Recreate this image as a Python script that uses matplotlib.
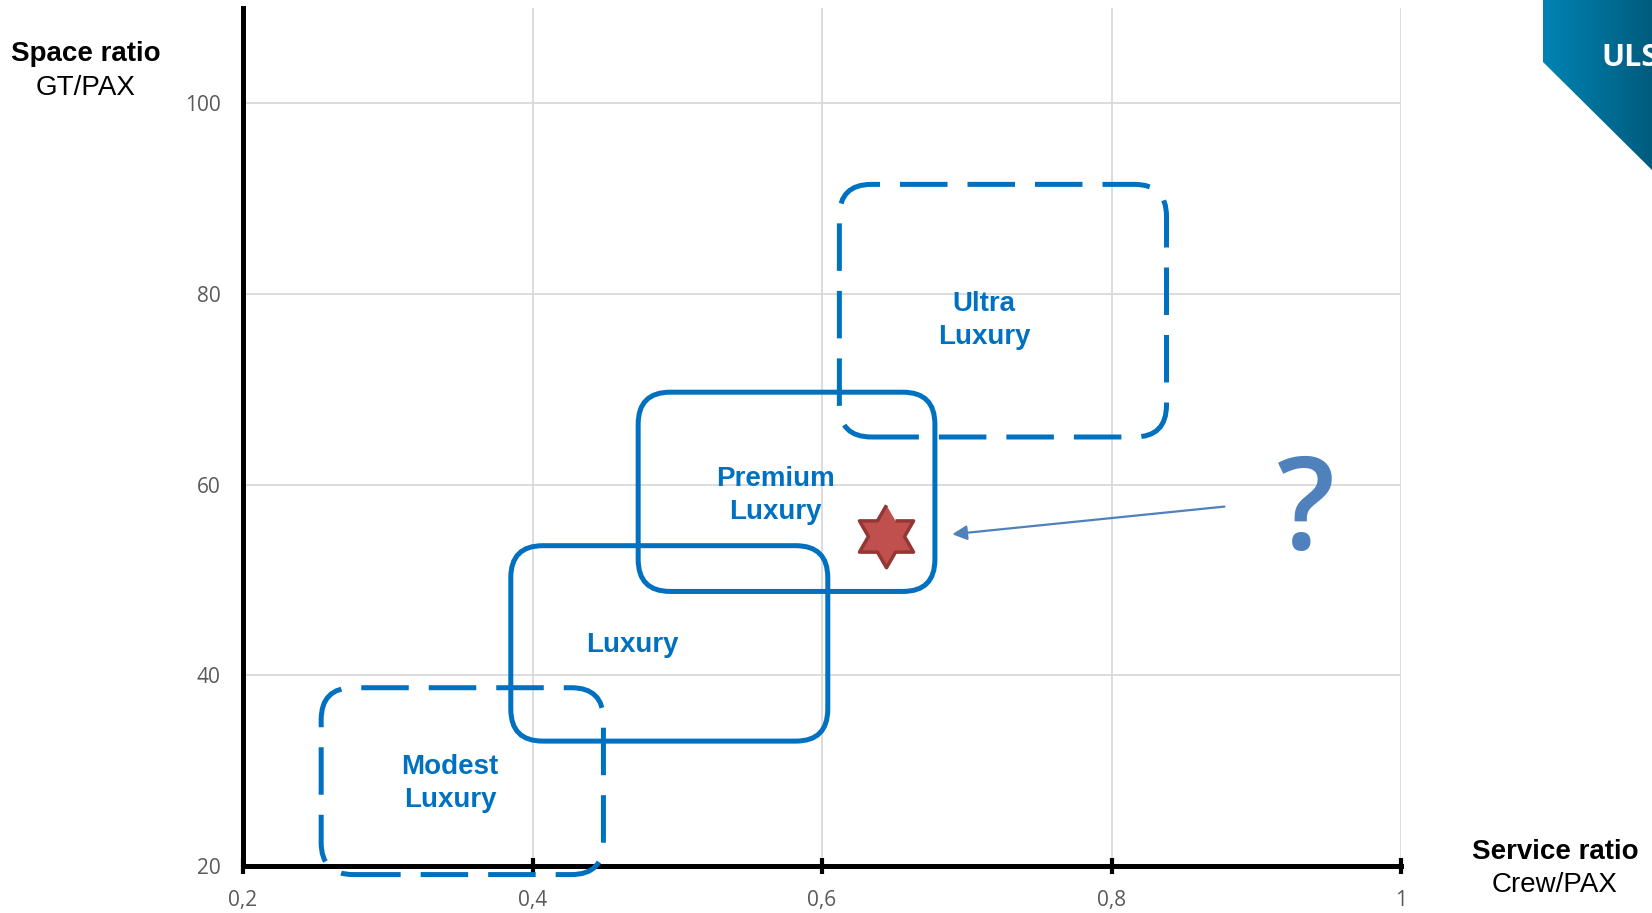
import numpy as np
import matplotlib
matplotlib.use('Agg')
import matplotlib.pyplot as plt
from matplotlib.patches import FancyBboxPatch, Polygon
from matplotlib.colors import LinearSegmentedColormap

# Dados
segmentos = ['Ultra\nLuxury', 'Premium\nLuxury', 'Luxury', 'Modest\nLuxury']
x0 = [0.612, 0.473, 0.385, 0.254]
x1 = [0.838, 0.678, 0.604, 0.449]
y0 = [65.0, 48.8, 33.1, 19.1]
y1 = [91.5, 69.7, 53.6, 38.7]
tracejado = [True, False, False, True]
texto_x = [0.712, 0.568, 0.469, 0.343]
texto_y = [77.2, 58.9, 43.2, 28.7]

navio = (0.644, 54.6)
seta_de = (0.878, 57.7)
seta_para = (0.690, 54.8)

xticks = [0.2, 0.4, 0.6, 0.8, 1.0]
xtick_labels = ['0,2', '0,4', '0,6', '0,8', '1']
yticks = [20, 40, 60, 80, 100]

azul = '#0070C0'
azul_claro = '#4F81BD'
cinza = '#595959'

W, H = 1652, 913
fig = plt.figure(figsize=(W / 100, H / 100), dpi=100)
ax = fig.add_axes([243 / W, 1 - 866 / H, (1401 - 243) / W, (866 - 8) / H])
ax.set_xlim(0.2, 1.0)
ax.set_ylim(20, 110)

# grade e eixos
ax.set_xticks(xticks)
ax.set_xticklabels(xtick_labels)
ax.set_yticks(yticks)
ax.grid(True, color='#D9D9D9', lw=1.3)
ax.set_axisbelow(True)
for s in ['top', 'right']:
    ax.spines[s].set_visible(False)
for s in ['left', 'bottom']:
    ax.spines[s].set_linewidth(3.6)
    ax.spines[s].set_zorder(3)
ax.tick_params(axis='x', direction='inout', length=12, width=3, pad=11,
               labelsize=15, labelcolor=cinza)
ax.tick_params(axis='y', length=0, pad=16, labelsize=15, labelcolor=cinza)
for lab in ax.get_xticklabels() + ax.get_yticklabels():
    lab.set_family('Open Sans')

# caixas arredondadas (raio igual em x e y)
px_x = (1401 - 243) / 0.8
px_y = (866 - 8) / 90.0
aspecto = px_x / px_y
raio = 32 / px_x
for i in range(len(segmentos)):
    caixa = FancyBboxPatch((x0[i], y0[i]), x1[i] - x0[i], y1[i] - y0[i],
                           boxstyle=f'round,pad=0,rounding_size={raio}',
                           mutation_aspect=aspecto, fill=False, ec=azul, lw=3.6,
                           ls=(0, (9.5, 4)) if tracejado[i] else '-',
                           clip_on=False, zorder=4)
    ax.add_patch(caixa)
    ax.text(texto_x[i], texto_y[i], segmentos[i], color=azul, fontsize=20,
            fontweight='bold', family='Liberation Sans', ha='center',
            va='center', linespacing=1.35, zorder=5)

# navio (hexagrama) e seta
ang = np.pi / 2 + np.arange(12) * np.pi / 6
r = np.where(np.arange(12) % 2 == 0, 1.0, 1 / np.sqrt(3))
hexagrama = list(zip(r * np.cos(ang), r * np.sin(ang)))
ax.plot(navio[0], navio[1], marker=hexagrama, ms=45, mfc='#C0504D',
        mec='#943634', mew=2.5, zorder=6)
ax.annotate('', xy=seta_para, xytext=seta_de,
            arrowprops=dict(arrowstyle='-|>', color=azul_claro, lw=1.6,
                            mutation_scale=22, shrinkA=0, shrinkB=0), zorder=6)
ax.text(0.9345, 56.8, '?', color=azul_claro, fontsize=92, family='Open Sans',
        fontweight='semibold', ha='center', va='center', zorder=6)

# títulos dos eixos
fig.text(86 / W, 1 - 54 / H, 'Space ratio', fontsize=20, fontweight='bold',
         family='Liberation Sans', ha='center', va='center')
fig.text(86 / W, 1 - 88 / H, 'GT/PAX', fontsize=20, family='Liberation Sans',
         ha='center', va='center')
fig.text(1555 / W, 1 - 852 / H, 'Service ratio', fontsize=20, fontweight='bold',
         family='Liberation Sans', ha='center', va='center')
fig.text(1555 / W, 1 - 885 / H, 'Crew/PAX', fontsize=20,
         family='Liberation Sans', ha='center', va='center')

# logotipo no canto
lx = fig.add_axes([1543 / W, 1 - 170 / H, (W - 1543) / W, 170 / H])
lx.set_xlim(1543, W)
lx.set_ylim(170, 0)
lx.axis('off')
grad = np.linspace(0, 1, 256).reshape(1, -1)
cmap = LinearSegmentedColormap.from_list('logo', ['#0083B3', '#005C7E'])
img = lx.imshow(grad, cmap=cmap, extent=[1543, W, 170, 0], aspect='auto')
poly = Polygon([[1543, 0], [W, 0], [W, 170], [1543, 62]], closed=True,
               transform=lx.transData, fc='none', ec='none')
lx.add_patch(poly)
img.set_clip_path(poly)
lx.text(1601, 58, 'ULS', color='white', fontsize=22, fontweight='bold',
        family='Open Sans', ha='left', va='center', clip_on=True)

fig.savefig('out.png', dpi=100)
